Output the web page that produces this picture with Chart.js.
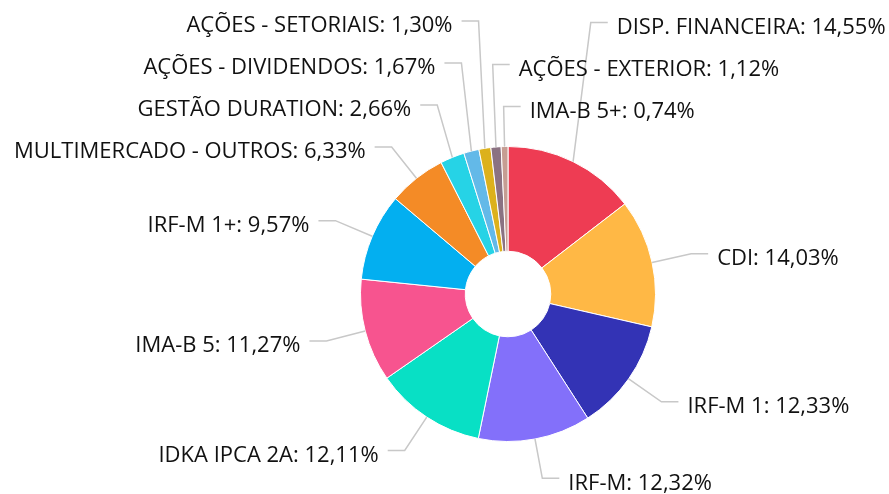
<!DOCTYPE html>
<html>
<head>
<meta charset="utf-8">
<script src="https://cdn.jsdelivr.net/npm/chart.js@4"></script>
<style>
  body { margin: 0; background: #fff; }
</style>
</head>
<body>
<canvas id="chart" width="889" height="494"></canvas>
<script>
let object = document.getElementById("chart");

// data, clockwise from the top
const categories = [
    "DISP. FINANCEIRA", "CDI", "IRF-M 1", "IRF-M", "IDKA IPCA 2A", "IMA-B 5",
    "IRF-M 1+", "MULTIMERCADO - OUTROS", "GESTÃO DURATION", "AÇÕES - DIVIDENDOS",
    "AÇÕES - SETORIAIS", "AÇÕES - EXTERIOR", "IMA-B 5+"
]
const shares = [14.55, 14.03, 12.33, 12.32, 12.11, 11.27, 9.57, 6.33, 2.66, 1.67, 1.30, 1.12, 0.74]
const colors = [
    "#ee3c53", "#ffb845", "#3333b5", "#8370fa", "#08e0c5", "#f7548f", "#03aff0",
    "#f48b26", "#26d3e6", "#63b9e8", "#dcb11c", "#8b7282", "#c69d93"
]

const FONT = "22px 'Open Sans'"

// outside labels with leader lines, placed from the arc elements
const outsideLabels = {
    id: "outsideLabels",
    afterDatasetsDraw(chart) {
        let ctx = chart.ctx
        let arcs = chart.getDatasetMeta(0).data
        let out = 40, step = 42
        let items = arcs.map((arc, i) => {
            let m = (arc.startAngle + arc.endAngle) / 2
            let r = arc.outerRadius
            return {
                i: i,
                cos: Math.cos(m),
                sin: Math.sin(m),
                sx: arc.x + r * Math.cos(m),
                sy: arc.y + r * Math.sin(m),
                ex: arc.x + (r + out) * Math.cos(m),
                ey: arc.y + (r + out) * Math.sin(m)
            }
        })
        let right = items.filter(it => it.cos > -0.1)
        let left = items.filter(it => it.cos <= -0.1)
        right.sort((a, b) => {
            let ta = a.sin < -0.5, tb = b.sin < -0.5
            if (ta && tb) return a.i - b.i
            if (ta != tb) return ta ? -1 : 1
            return a.ey - b.ey
        })
        left.sort((a, b) => a.ey - b.ey)
        ;[left, right].forEach(side => {
            let prev = Infinity
            for (let k = side.length - 1; k >= 0; k--) {
                let y = Math.min(side[k].ey, prev - step)
                side[k].ly = y
                prev = y
            }
        })

        ctx.save()
        ctx.font = FONT
        ctx.textBaseline = "middle"
        ctx.fillStyle = "#111"
        ctx.strokeStyle = "#c8c8c8"
        ctx.lineWidth = 1.5
        items.forEach(it => {
            let dir = it.cos > -0.1 ? 1 : -1
            ctx.beginPath()
            ctx.moveTo(it.sx, it.sy)
            ctx.lineTo(it.ex, it.ly)
            ctx.lineTo(it.ex + dir * 17, it.ly)
            ctx.stroke()
            let text = categories[it.i] + ": " + shares[it.i].toFixed(2).replace(".", ",") + "%"
            ctx.textAlign = dir > 0 ? "left" : "right"
            ctx.fillText(text, it.ex + dir * 26, it.ly + 5)
        })
        ctx.restore()
    }
}

let config = {
    type: "doughnut",
    data: {
        labels: categories,
        datasets: [
            {
                data: shares,
                backgroundColor: colors,
                borderColor: "#ffffff",
                borderWidth: 1
            }
        ]
    },
    options: {
        responsive: false,
        animation: false,
        cutout: "29%",
        layout: {
            padding: { left: 360, right: 233, top: 146, bottom: 52 }
        },
        plugins: {
            legend: { display: false },
            tooltip: { enabled: false }
        }
    },
    plugins: [outsideLabels]
}
let chart = new Chart(object, config)
</script>
</body>
</html>
